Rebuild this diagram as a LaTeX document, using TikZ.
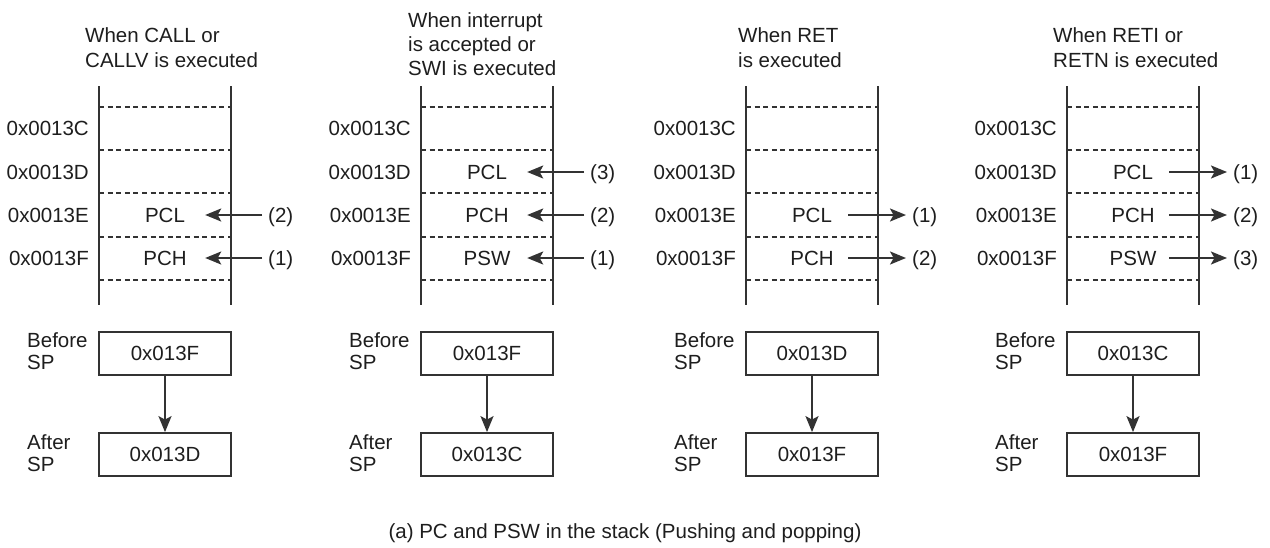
\documentclass[tikz,border=0pt]{standalone}
\usepackage{fontspec}
\setmainfont{Liberation Sans}
\usetikzlibrary{arrows.meta}
\definecolor{ink}{HTML}{1E1E1E}
\definecolor{linec}{HTML}{333333}
\tikzset{
  txt/.style={inner sep=0pt, text=ink, font=\fontsize{20.5}{25}\selectfont},
  one/.style={txt, text height=14.7pt, text depth=0pt},
  addr/.style={one, anchor=east},
  entry/.style={one, align=center},
  lbl/.style={one, anchor=west, inner xsep=6pt},
  ttl/.style={txt, anchor=north west, align=left},
  side/.style={inner sep=0pt, text=ink, font=\fontsize{20.5}{22}\selectfont, anchor=north west, align=left},
  wall/.style={draw=linec, line width=1.8pt},
  sep/.style={draw=linec, line width=1.4pt, dash pattern=on 5pt off 3.6pt},
  spbox/.style={one, draw=linec, line width=1.8pt, minimum width=132pt, minimum height=43pt},
  arr/.style={draw=linec, line width=2pt, -{Stealth[length=16pt,width=13pt,inset=3.5pt]}},
}
\newcommand\stackframe[3]{%
  \coordinate (tl#1) at (0,86); \coordinate (bl#1) at (0,305);
  \coordinate (tr#1) at (132,86); \coordinate (br#1) at (132,305);
  \draw[wall] (tl#1) -- (bl#1);
  \draw[wall] (tr#1) -- (br#1);
  \foreach \yy in {107,150,193,237,280} {\draw[sep] (0,\yy) -- (132,\yy);}
  \node[addr] (a#1c) at (-10,128) {0x0013C};
  \node[addr] (a#1d) at (-10,172) {0x0013D};
  \node[addr] (a#1e) at (-10,215) {0x0013E};
  \node[addr] (a#1f) at (-10,258) {0x0013F};
  \node[spbox] (before#1) at (66,353.5) {#2};
  \node[spbox] (after#1) at (66,454.5) {#3};
  \draw[arr] (before#1) -- (after#1);
  \node[side] (bs#1) at (-72,332.5) {Before\\SP};
  \node[side] (as#1) at (-72,434.5) {After\\SP};
}
\newcommand\pushentry[4]{%
  \node[entry, minimum width=80pt] (e#1) at (66,#2) {#3};
  \node[lbl] (n#1) at (163,#2) {#4};
  \draw[arr] (n#1.west) -- (e#1.east);
}
\newcommand\popentry[4]{%
  \node[entry, minimum width=72pt] (e#1) at (66,#2) {#3};
  \node[lbl] (n#1) at (160,#2) {#4};
  \draw[arr] (e#1.east) -- (n#1.west);
}
\begin{document}
\begin{tikzpicture}[x=1pt,y=-1pt]
\useasboundingbox (0,0) rectangle (1270,547);
\fill[white] (0,0) rectangle (1270,547);

\begin{scope}[xshift=99pt]
  \stackframe{1}{0x013F}{0x013D}
  \pushentry{1e}{215}{PCL}{(2)}
  \pushentry{1f}{258}{PCH}{(1)}
  \node[ttl] (t1) at (-14,27.5) {When CALL or\\CALLV is executed};
\end{scope}

\begin{scope}[xshift=421pt]
  \stackframe{2}{0x013F}{0x013C}
  \pushentry{2d}{172}{PCL}{(3)}
  \pushentry{2e}{215}{PCH}{(2)}
  \pushentry{2f}{258}{PSW}{(1)}
  \node[ttl, font=\fontsize{20.5}{24}\selectfont] (t2) at (-13,12.5) {When interrupt\\is accepted or\\SWI is executed};
\end{scope}

\begin{scope}[xshift=746pt]
  \stackframe{3}{0x013D}{0x013F}
  \popentry{3e}{215}{PCL}{(1)}
  \popentry{3f}{258}{PCH}{(2)}
  \node[ttl] (t3) at (-8,27.5) {When RET\\is executed};
\end{scope}

\begin{scope}[xshift=1067pt]
  \stackframe{4}{0x013C}{0x013F}
  \popentry{4d}{172}{PCL}{(1)}
  \popentry{4e}{215}{PCH}{(2)}
  \popentry{4f}{258}{PSW}{(3)}
  \node[ttl] (t4) at (-14,27.5) {When RETI or\\RETN is executed};
\end{scope}

\node[one] (cap) at (625,531) {(a) PC and PSW in the stack (Pushing and popping)};
\end{tikzpicture}
\end{document}
